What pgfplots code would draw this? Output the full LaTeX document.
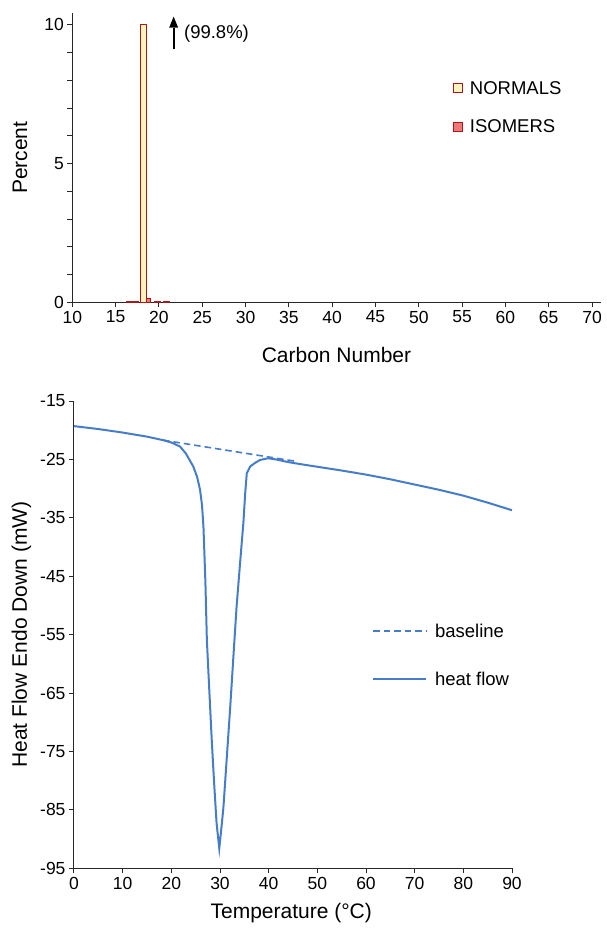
\documentclass[border=0pt]{standalone}
\usepackage{fontspec}
\setmainfont{Liberation Sans}
\usepackage{pgfplots}
\pgfplotsset{compat=1.18}
\usetikzlibrary{arrows.meta}
\definecolor{barred}{RGB}{170,25,25}
\definecolor{normfill}{RGB}{255,244,190}
\definecolor{isofill}{RGB}{240,120,120}
\definecolor{hfblue}{RGB}{70,125,200}
\definecolor{axgray}{RGB}{40,40,40}
\begin{document}
\begin{tikzpicture}[font=\fontsize{18}{21.6}\selectfont]
\useasboundingbox (0,0) rectangle (606pt,-929pt);
\pgfplotsset{
  mystyle/.style={
    scale only axis,
    axis x line=bottom, axis y line=left,
    axis line style={-, axgray, line width=1pt},
    tick align=outside, major tick length=5pt, minor tick length=5pt,
    every tick/.style={axgray, line width=1pt},
    /pgf/number format/assume math mode=true,
    ticklabel style={font=\fontsize{17.5}{21}\selectfont},
    label style={font=\fontsize{21}{25}\selectfont},
  }
}
\begin{axis}[mystyle,
  at={(72.3pt,-302.3pt)}, anchor=south west,
  width=528.4pt, height=289pt,
  xmin=10, xmax=71, ymin=0, ymax=10.42,
  xtick={10,15,...,70}, ytick={0,5,10}, minor ytick={1,2,3,4,6,7,8,9},
  xlabel={Carbon Number}, ylabel={Percent},
  xlabel style={at={(axis description cs:0.5,-0.182)}, anchor=center},
  ylabel style={at={(axis description cs:-0.099,0.5)}, anchor=center},
  legend style={at={(axis description cs:0.72,0.773)}, anchor=north west,
    draw=none, fill=none, inner sep=0pt, row sep=20pt,
    /tikz/every odd column/.style={column sep=5pt},
    font=\fontsize{18.5}{22}\selectfont},
  legend cell align=left,
]
\addplot[ybar, bar shift=0pt, bar width=0.66, draw=barred, fill=normfill, line width=1pt,
  legend image code/.code={\draw[draw=barred, fill=normfill, line width=1pt] (0pt,-4.5pt) rectangle (9pt,4.5pt);}]
  coordinates {(16.6,0.02) (17.3,0.02) (18.2,10) (19.85,0.03) (20.85,0.02)};
\addlegendentry{NORMALS}
\addplot[ybar, bar shift=0pt, bar width=0.5, draw=barred, fill=isofill, line width=1pt,
  legend image code/.code={\draw[draw=barred, fill=isofill, line width=1pt] (0pt,-4.5pt) rectangle (9pt,4.5pt);}]
  coordinates {(18.78,0.15)};
\addlegendentry{ISOMERS}
\draw[line width=2pt] (axis cs:21.7,9.12) -- (axis cs:21.7,9.9);
\fill (axis cs:21.7,10.3) -- ++(-4.5pt,-11pt) -- ++(9pt,0pt) -- cycle;
\node[anchor=west, font=\fontsize{18.5}{22}\selectfont] at (axis cs:22.5,9.67) {(99.8\%)};
\end{axis}

\begin{axis}[mystyle,
  at={(74pt,-868.3pt)}, anchor=south west,
  width=438pt, height=467.3pt,
  xmin=0, xmax=90, ymin=-95, ymax=-15,
  xtick={0,10,...,90}, ytick={-95,-85,...,-15},
  xlabel={Temperature (°C)}, ylabel={Heat Flow Endo Down (mW)},
  xlabel style={at={(axis description cs:0.496,-0.096)}, anchor=center},
  ylabel style={at={(axis description cs:-0.12,0.5)}, anchor=center},
  legend style={at={(axis description cs:0.68,0.528)}, anchor=north west,
    draw=none, fill=none, inner sep=0pt, row sep=29pt,
    /tikz/every odd column/.style={column sep=6pt},
    font=\fontsize{18.5}{22}\selectfont},
  legend cell align=left,
]
\addplot[hfblue, line width=1.6pt, dash pattern=on 6.5pt off 4pt,
  legend image code/.code={\draw[hfblue, line width=1.6pt, dash pattern=on 6.5pt off 4pt] (0pt,0pt) -- (53pt,0pt);}]
  coordinates {(18.3,-21.7) (45.4,-25.3)};
\addlegendentry{baseline}
\addplot[hfblue, line width=2pt,
  legend image code/.code={\draw[hfblue, line width=2pt] (0pt,0pt) -- (53pt,0pt);}]
  coordinates {(0,-19.3) (5,-19.8) (10,-20.4) (15,-21.1) (18.3,-21.7) (20,-22.1)
  (21.8,-22.8) (23,-24.0) (24.5,-26.2) (25.3,-28.0) (25.9,-30.2) (26.3,-32.8)
  (26.6,-36.5) (27.0,-46) (27.3,-55.9) (27.8,-64.5) (28.3,-73) (28.8,-80.5)
  (29.3,-87.3) (29.85,-91.6) (30.3,-88) (30.7,-84.6) (31.4,-76) (32.1,-67.4)
  (32.75,-58.8) (33.4,-50.3) (34.1,-43) (34.8,-35.9) (35.2,-30.5) (35.5,-27.4)
  (36.2,-26.2) (37.2,-25.6) (38.2,-25.1) (39.9,-24.8) (41.5,-25.0) (43.7,-25.4)
  (45,-25.6) (48,-26.0) (55,-26.9) (60,-27.6) (65,-28.4) (70,-29.3) (75,-30.2)
  (80,-31.2) (85,-32.4) (90,-33.7)};
\addlegendentry{heat flow}
\end{axis}
\end{tikzpicture}
\end{document}
